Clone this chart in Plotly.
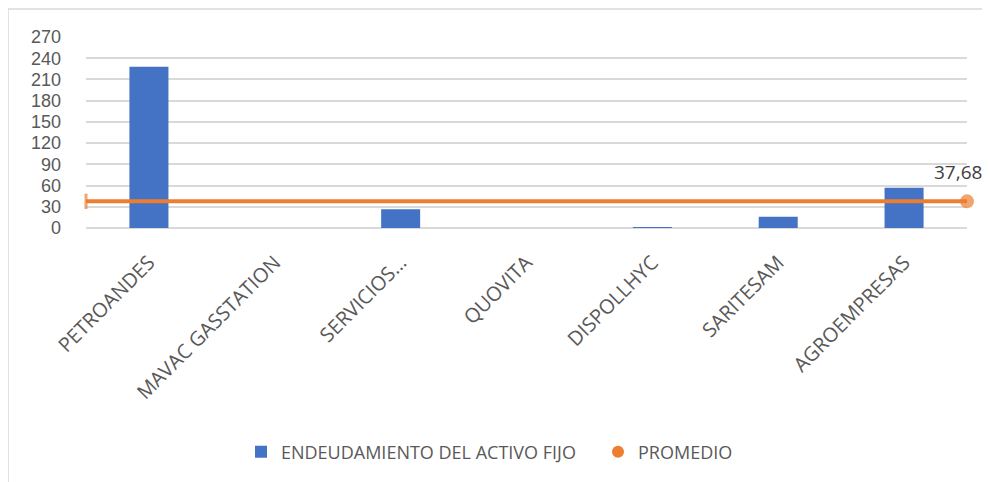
import plotly.graph_objects as go

categories = ["PETROANDES", "MAVAC GASSTATION", "SERVICIOS…", "QUOVITA",
              "DISPOLLHYC", "SARITESAM", "AGROEMPRESAS"]
endeudamiento = [228, 0, 26.4, 0, 0.6, 16, 57]
promedio_value = 37.68
promedio_label = "37,68"
y_ticks = [0, 30, 60, 90, 120, 150, 180, 210, 240, 270]

BLUE = "#4472C4"
ORANGE = "#ED7D31"
GRID = "#D9D9D9"
FONT = "Open Sans"

OFF = 8  # browser body margin
W, H = 990 - OFF, 482 - OFF
# plot area in screen pixels: x 86..967, y 37..228
L = 86 - OFF
R = W - (967 - OFF)
T = 37 - OFF
B = H - (228 - OFF)
pw, ph = W - L - R, H - T - B

def sx(px):  # screen px -> paper x
    return (px - OFF - L) / pw

def sy(py):  # screen px -> paper y
    return (H - B - (py - OFF)) / ph

fig = go.Figure()

fig.add_trace(go.Bar(
    x=categories, y=endeudamiento, name="ENDEUDAMIENTO DEL ACTIVO FIJO",
    marker=dict(color=BLUE, line=dict(width=0)),
    showlegend=True, hoverinfo="x+y",
))

# Average line across the full plot width on an overlaid axis
fig.add_trace(go.Scatter(
    x=[0, 1], y=[promedio_value, promedio_value], xaxis="x2",
    mode="lines+markers",
    line=dict(color=ORANGE, width=4),
    marker=dict(symbol=["line-ns", "circle"], size=[11, 14], color=ORANGE,
                line=dict(color=ORANGE, width=[3, 0])),
    cliponaxis=False, showlegend=False, name="PROMEDIO",
))

# Legend swatch for PROMEDIO (circle only)
fig.add_trace(go.Scatter(
    x=[None], y=[None], mode="markers", name="PROMEDIO",
    marker=dict(symbol="circle", size=12, color=ORANGE),
))

fig.add_annotation(
    x=1, xref="x2", y=promedio_value, yref="y", text=promedio_label,
    showarrow=False, xanchor="center", yanchor="middle",
    xshift=-9, yshift=29,
    font=dict(family=FONT, size=19, color="#404040"),
)

fig.update_layout(
    width=W, height=H,
    margin=dict(l=L, r=R, t=T, b=B, autoexpand=False),
    paper_bgcolor="white", plot_bgcolor="white",
    font=dict(family=FONT, color="#595959"),
    bargap=0.69,
    showlegend=True,
    legend=dict(orientation="h", x=sx(598), xanchor="center",
                y=sy(452), yanchor="middle",
                font=dict(family=FONT, size=18, color="#595959"),
                entrywidth=312, entrywidthmode="pixels",
                itemsizing="constant", traceorder="normal"),
    xaxis=dict(type="category", showgrid=False, showline=False, zeroline=False,
               tickangle=-45, tickfont=dict(family=FONT, size=20, color="#595959"),
               ticks="", ticklabelstandoff=18),
    xaxis2=dict(overlaying="x", range=[0, 1], visible=False, fixedrange=True),
    yaxis=dict(range=[0, 270], tickvals=y_ticks, showgrid=True, gridcolor=GRID,
               gridwidth=1.5, zeroline=True, zerolinecolor=GRID, zerolinewidth=1.5,
               showline=False, ticks="", ticklabelstandoff=24,
               tickfont=dict(family="Liberation Sans", size=18, color="#595959")),
    shapes=[dict(type="rect", xref="paper", yref="paper",
                 x0=sx(8), x1=sx(1010), y0=sy(9), y1=sy(500),
                 line=dict(color=GRID, width=1.5), fillcolor="rgba(0,0,0,0)",
                 layer="below")],
)

fig.write_html("out.html")
